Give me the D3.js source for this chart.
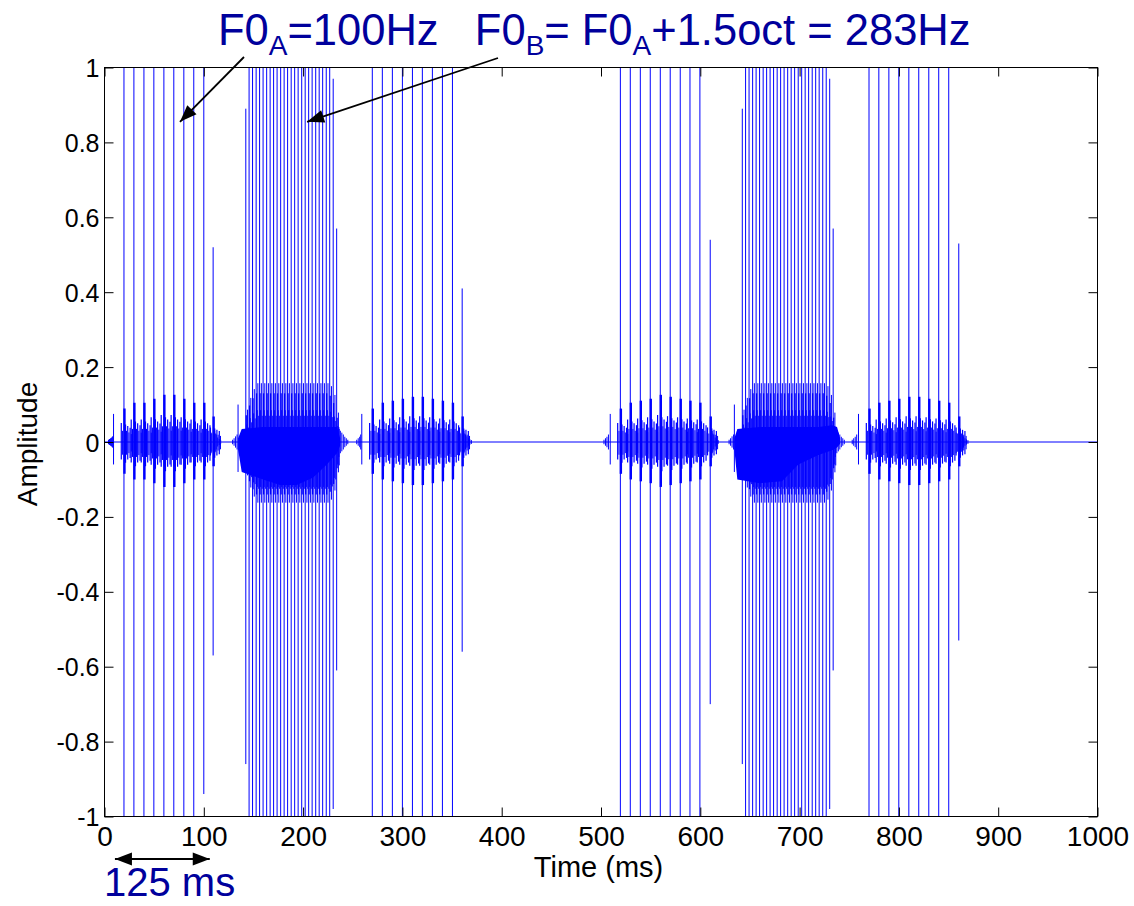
<!DOCTYPE html>
<html>
<head>
<meta charset="utf-8">
<script src="https://cdn.jsdelivr.net/npm/d3@7"></script>
<style>
  body { margin: 0; background: #fff; }
  svg text { font-family: "Liberation Sans", Arial, Helvetica, sans-serif; }
</style>
</head>
<body>
<svg id="chart" width="1134" height="906"></svg>
<script>
// ---------- axes ----------
const xTicks = [0, 100, 200, 300, 400, 500, 600, 700, 800, 900, 1000];
const yTicks = [-1, -0.8, -0.6, -0.4, -0.2, 0, 0.2, 0.4, 0.6, 0.8, 1];
const yTickLabels = ["-1", "-0.8", "-0.6", "-0.4", "-0.2", "0", "0.2", "0.4", "0.6", "0.8", "1"];

// ---------- A tones (100 Hz click trains): pulse time (ms), peak, trough, ringing scale ----------
const timesA1 = [19.6, 29.6, 39.7, 49.7, 59.8, 69.8, 79.9, 89.9, 100.0, 109.4];
const topsA1  = [1.3, 1.3, 1.3, 1.3, 1.3, 1.3, 1.3, 1.3, 1.3, 0.52];
const botsA1  = [-1.3, -1.3, -1.3, -1.3, -1.3, -1.3, -1.3, -1.3, -0.94, -0.57];
const ringA1  = [0.85, 1.0, 1.0, 1.1, 1.2, 1.2, 1.1, 1.0, 1.0, 0.65];

const timesA2 = [269.7, 279.8, 289.9, 300.0, 310.1, 320.1, 330.2, 340.3, 350.4, 360.2];
const topsA2  = [1.3, 1.3, 1.3, 1.3, 1.3, 1.3, 1.3, 1.3, 1.3, 0.41];
const botsA2  = [-1.3, -1.3, -1.3, -1.3, -1.3, -1.3, -1.3, -1.3, -1.3, -0.56];
const ringA2  = [0.85, 1.0, 1.05, 1.1, 1.15, 1.15, 1.1, 1.05, 1.0, 0.65];

const timesA3 = [519.5, 529.5, 539.6, 549.6, 559.7, 569.7, 579.8, 589.6, 599.6, 610.0];
const topsA3  = [1.3, 1.3, 1.3, 1.3, 1.3, 1.3, 1.3, 1.3, 1.3, 0.54];
const botsA3  = [-1.3, -1.3, -1.3, -1.3, -1.3, -1.3, -1.3, -1.3, -1.3, -0.70];
const ringA3  = [0.85, 1.0, 1.05, 1.1, 1.2, 1.15, 1.1, 1.05, 1.0, 0.65];

const timesA4 = [769.9, 779.8, 789.9, 799.9, 810.0, 820.0, 830.1, 840.1, 850.2, 860.3];
const topsA4  = [1.3, 1.3, 1.3, 1.3, 1.3, 1.3, 1.3, 1.3, 1.3, 0.53];
const botsA4  = [-1.3, -1.3, -1.3, -1.3, -1.3, -1.3, -1.3, -1.3, -1.3, -0.53];
const ringA4  = [0.85, 1.0, 1.05, 1.1, 1.15, 1.15, 1.1, 1.05, 1.0, 0.65];

// ringing around each A click: offset (ms), upper and lower excursion, stroke weight
const ringA_dt = [-2.7, -1.4, 0.5, 1.5, 2.6, 3.8, 5.0, 6.2, 7.4];
const ringA_hi = [0.06, 0.035, 0.105, 0.055, 0.035, 0.05, 0.03, 0.045, 0.025];
const ringA_lo = [-0.055, -0.04, -0.10, -0.065, -0.04, -0.055, -0.035, -0.05, -0.03];
const ringA_w  = [1.2, 1, 2.4, 1.4, 1, 1.2, 1, 1.2, 1];

// onset transients of the A tones
const onsetA = [9.1, 259.1, 509.3, 759.3];
const onsetA_hi = 0.075, onsetA_lo = -0.06;

// ---------- B tones (283 Hz click trains) ----------
const timesB1 = [142.3, 145.6, 149.1, 152.7, 156.2, 159.7, 163.3, 166.8, 170.3, 173.8, 177.4, 180.9, 184.4, 188.0,
                 191.5, 195.0, 198.6, 202.1, 205.6, 209.1, 212.7, 216.2, 219.7, 223.3, 226.8, 230.3, 233.8];
const topsB1  = [0.89, 1.3, 1.3, 1.3, 1.3, 1.3, 1.3, 1.3, 1.3, 1.3, 1.3, 1.3, 1.3, 1.3,
                 1.3, 1.3, 1.3, 1.3, 1.3, 1.3, 1.3, 1.3, 1.3, 1.3, 1.3, 0.97, 0.57];
const botsB1  = [-0.86, -1.3, -1.3, -1.3, -1.3, -1.3, -1.3, -1.3, -1.3, -1.3, -1.3, -1.3, -1.3, -1.3,
                 -1.3, -1.3, -1.3, -1.3, -1.3, -1.3, -1.3, -1.3, -1.3, -1.3, -1.3, -0.98, -0.61];
const ringB1  = [0.55, 0.75, 0.9, 1, 1, 1, 1, 1, 1, 1, 1, 1, 1, 1,
                 1, 1, 1, 1, 1, 1, 1, 1, 1, 1, 0.95, 0.8, 0.5];

const timesB2 = [642.3, 645.6, 649.1, 652.7, 656.2, 659.7, 663.3, 666.8, 670.3, 673.8, 677.4, 680.9, 684.4, 688.0,
                 691.5, 695.0, 698.6, 702.1, 705.6, 709.1, 712.7, 716.2, 719.7, 723.3, 726.8, 730.3, 733.8];
const topsB2  = [0.89, 1.3, 1.3, 1.3, 1.3, 1.3, 1.3, 1.3, 1.3, 1.3, 1.3, 1.3, 1.3, 1.3,
                 1.3, 1.3, 1.3, 1.3, 1.3, 1.3, 1.3, 1.3, 1.3, 1.3, 1.3, 0.97, 0.57];
const botsB2  = [-0.86, -1.3, -1.3, -1.3, -1.3, -1.3, -1.3, -1.3, -1.3, -1.3, -1.3, -1.3, -1.3, -1.3,
                 -1.3, -1.3, -1.3, -1.3, -1.3, -1.3, -1.3, -1.3, -1.3, -1.3, -1.3, -0.98, -0.61];
const ringB2  = [0.55, 0.75, 0.9, 1, 1, 1, 1, 1, 1, 1, 1, 1, 1, 1,
                 1, 1, 1, 1, 1, 1, 1, 1, 1, 1, 0.95, 0.8, 0.5];

// ringing inside each B period
const ringB_dt = [0.45, 1.1, 1.75, 2.6];
const ringB_hi = [0.13, 0.085, 0.157, 0.07];
const ringB_lo = [-0.14, -0.12, -0.162, -0.125];
const ringB_w  = [1.3, 1, 1, 1];

const onsetB = [134.5, 634.3];
const onsetB_hi = 0.10, onsetB_lo = -0.08;

// dense core of the B tones: time (ms), upper and lower envelope
const coreB1_t  = [134.5, 138.2, 159.7, 176.8, 193.7, 210.1, 223.9, 234.0, 237.3];
const coreB1_hi = [0.01, 0.035, 0.04, 0.04, 0.04, 0.04, 0.04, 0.04, 0.01];
const coreB1_lo = [-0.02, -0.08, -0.10, -0.115, -0.115, -0.095, -0.06, -0.03, -0.01];

const coreB2_t  = [634.3, 637.3, 660.0, 682.3, 698.7, 718.9, 732.7, 737.7, 740.8];
const coreB2_hi = [0.01, 0.035, 0.04, 0.04, 0.04, 0.04, 0.045, 0.04, 0.01];
const coreB2_lo = [-0.02, -0.1, -0.11, -0.105, -0.06, -0.035, -0.022, -0.015, -0.005];

// low-level decay and lead-in around each tone
const noiseT   = [4, 5, 6, 7, 8, 111, 112.5, 114, 115.5, 117,
                  129, 130.5, 132, 133.5, 236, 237.5, 239, 240.5, 242, 243.5, 245,
                  254, 255.5, 257, 258, 362, 363.5, 365, 366.5, 368, 369.5,
                  503, 504.5, 506, 507.5, 612, 613.5, 615, 616.5, 618,
                  629, 630.5, 632, 633.5, 736, 737.5, 739, 740.5, 742, 743.5, 745,
                  753, 754.5, 756, 757.5, 862, 863.5, 865, 866.5, 868, 869.5];
const noiseAmp = [0.006, 0.008, 0.01, 0.012, 0.015, 0.03, 0.02, 0.012, 0.008, 0.005,
                  0.006, 0.01, 0.015, 0.02, 0.04, 0.03, 0.025, 0.02, 0.014, 0.01, 0.006,
                  0.006, 0.01, 0.014, 0.02, 0.03, 0.02, 0.015, 0.01, 0.007, 0.005,
                  0.006, 0.01, 0.014, 0.02, 0.03, 0.02, 0.012, 0.008, 0.005,
                  0.006, 0.01, 0.015, 0.02, 0.04, 0.03, 0.025, 0.02, 0.014, 0.01, 0.006,
                  0.006, 0.01, 0.014, 0.02, 0.03, 0.02, 0.015, 0.01, 0.007, 0.005];

// resting trace
const restT = [0, 1000];
const restA = [0, 0];

// annotation anchors (ms, amplitude)
const tipA = [76, 0.855];
const tipB = [204, 0.855];
const spanArrow = [10.5, 106];

// ---------- scales ----------
const svg = d3.select("#chart");
const x = d3.scaleLinear().domain([0, 1000]).range([104.5, 1097.5]);
const y = d3.scaleLinear().domain([-1, 1]).range([816.5, 67.5]);
const BLUE = "#0000ff";
const NAVY = "#00009c";

svg.append("defs").append("clipPath").attr("id", "plotClip")
  .append("rect").attr("x", x(0)).attr("y", y(1))
  .attr("width", x(1000) - x(0)).attr("height", y(-1) - y(1));

// ---------- build vertical strokes ----------
const strokes = [];
function addTrain(times, tops, bots, scale, dts, his, los, ws) {
  times.forEach((t, i) => {
    strokes.push({ t, hi: tops[i], lo: bots[i], w: 1 });
    dts.forEach((dt, j) => strokes.push({ t: t + dt, hi: his[j] * scale[i], lo: los[j] * scale[i], w: ws[j] }));
  });
}
addTrain(timesA1, topsA1, botsA1, ringA1, ringA_dt, ringA_hi, ringA_lo, ringA_w);
addTrain(timesA2, topsA2, botsA2, ringA2, ringA_dt, ringA_hi, ringA_lo, ringA_w);
addTrain(timesA3, topsA3, botsA3, ringA3, ringA_dt, ringA_hi, ringA_lo, ringA_w);
addTrain(timesA4, topsA4, botsA4, ringA4, ringA_dt, ringA_hi, ringA_lo, ringA_w);
addTrain(timesB1, topsB1, botsB1, ringB1, ringB_dt, ringB_hi, ringB_lo, ringB_w);
addTrain(timesB2, topsB2, botsB2, ringB2, ringB_dt, ringB_hi, ringB_lo, ringB_w);
onsetA.forEach(t => strokes.push({ t, hi: onsetA_hi, lo: onsetA_lo, w: 1 }));
onsetB.forEach(t => strokes.push({ t, hi: onsetB_hi, lo: onsetB_lo, w: 1 }));
noiseT.forEach((t, i) => strokes.push({ t, hi: noiseAmp[i], lo: -noiseAmp[i], w: 1 }));

const plot = svg.append("g").attr("clip-path", "url(#plotClip)");

// dense cores of the B tones
const coreArea = d3.area().x(d => x(d[0])).y0(d => y(d[2])).y1(d => y(d[1]));
[[coreB1_t, coreB1_hi, coreB1_lo], [coreB2_t, coreB2_hi, coreB2_lo]].forEach(([ts, hs, ls]) => {
  plot.append("path")
    .datum(ts.map((t, i) => [t, hs[i], ls[i]]))
    .attr("d", coreArea)
    .attr("fill", BLUE);
});

// resting trace
plot.append("path")
  .datum(restT.map((t, i) => [t, restA[i]]))
  .attr("d", d3.line().x(d => x(d[0])).y(d => y(d[1])))
  .attr("fill", "none").attr("stroke", BLUE).attr("stroke-width", 1);

plot.selectAll("line.s").data(strokes).join("line")
  .attr("class", "s")
  .attr("x1", d => x(d.t)).attr("x2", d => x(d.t))
  .attr("y1", d => y(d.hi)).attr("y2", d => y(d.lo))
  .attr("stroke", BLUE).attr("stroke-width", d => d.w);

// ---------- axes ----------
const fmtY = v => yTickLabels[yTicks.indexOf(v)];
const gx = svg.append("g").attr("transform", `translate(0,${y(-1)})`)
  .call(d3.axisBottom(x).tickValues(xTicks).tickSizeInner(-9).tickSizeOuter(0).tickPadding(10).tickFormat(d3.format("d")));
const gy = svg.append("g").attr("transform", `translate(${x(0)},0)`)
  .call(d3.axisLeft(y).tickValues(yTicks).tickSizeInner(-9).tickSizeOuter(0).tickPadding(5).tickFormat(fmtY));
const gt = svg.append("g").attr("transform", `translate(0,${y(1)})`)
  .call(d3.axisTop(x).tickValues(xTicks).tickSizeInner(-9).tickSizeOuter(0).tickFormat(""));
const gr = svg.append("g").attr("transform", `translate(${x(1000)},0)`)
  .call(d3.axisRight(y).tickValues(yTicks).tickSizeInner(-9).tickSizeOuter(0).tickFormat(""));
[gx, gy, gt, gr].forEach(g => {
  g.select(".domain").remove();
  g.selectAll("line").attr("stroke", "#000").attr("stroke-width", 1);
  g.selectAll("text").attr("fill", "#000")
   .style("font-family", '"Liberation Sans", Arial, sans-serif');
});
gx.selectAll("text").style("font-size", "28px");
gy.selectAll("text").style("font-size", "25px").attr("dy", "0.36em");

svg.append("rect")
  .attr("x", x(0)).attr("y", y(1))
  .attr("width", x(1000) - x(0)).attr("height", y(-1) - y(1))
  .attr("fill", "none").attr("stroke", "#000").attr("stroke-width", 1);

svg.append("text").attr("x", 598.5).attr("y", 877).attr("text-anchor", "middle")
  .style("font-size", "29px").attr("fill", "#000").text("Time (ms)");
svg.append("text").attr("transform", "translate(37,444) rotate(-90)").attr("text-anchor", "middle")
  .style("font-size", "28px").attr("fill", "#000").text("Amplitude");

// ---------- annotations ----------
const title = svg.append("text").attr("x", 218).attr("y", 45)
  .style("font-size", "43.5px").style("white-space", "pre").attr("fill", NAVY);
const parts = [["F0", 0], ["A", 1], ["=100Hz   F0", 0], ["B", 1], ["= F0", 0], ["A", 1], ["+1.5oct = 283Hz", 0]];
let sub = 0;
parts.forEach(([s, isSub]) => {
  const ts = title.append("tspan").text(s);
  if (isSub) ts.style("font-size", "28px");
  if (isSub && !sub) { ts.attr("dy", 10); sub = 1; }
  else if (!isSub && sub) { ts.attr("dy", -10); sub = 0; }
});

function arrow(x1, y1, x2, y2, heads) {
  svg.append("line").attr("x1", x1).attr("y1", y1).attr("x2", x2).attr("y2", y2)
    .attr("stroke", "#000").attr("stroke-width", 1.8);
  const head = (hx, hy, fx, fy) => {
    const a = Math.atan2(hy - fy, hx - fx), L = 17, W = 6.5;
    const bx = hx - L * Math.cos(a), by = hy - L * Math.sin(a);
    const px = -Math.sin(a) * W, py = Math.cos(a) * W;
    svg.append("path").attr("d", `M${hx},${hy}L${bx + px},${by + py}L${bx - px},${by - py}Z`).attr("fill", "#000");
  };
  heads.forEach(h => h === 2 ? head(x2, y2, x1, y1) : head(x1, y1, x2, y2));
}
arrow(244, 57, x(tipA[0]), y(tipA[1]), [2]);
arrow(498, 58, x(tipB[0]), y(tipB[1]), [2]);
arrow(x(spanArrow[0]), 859, x(spanArrow[1]), 859, [1, 2]);

svg.append("text").attr("x", 104).attr("y", 896)
  .style("font-size", "40px").attr("fill", NAVY).text("125 ms");
</script>
</body>
</html>
